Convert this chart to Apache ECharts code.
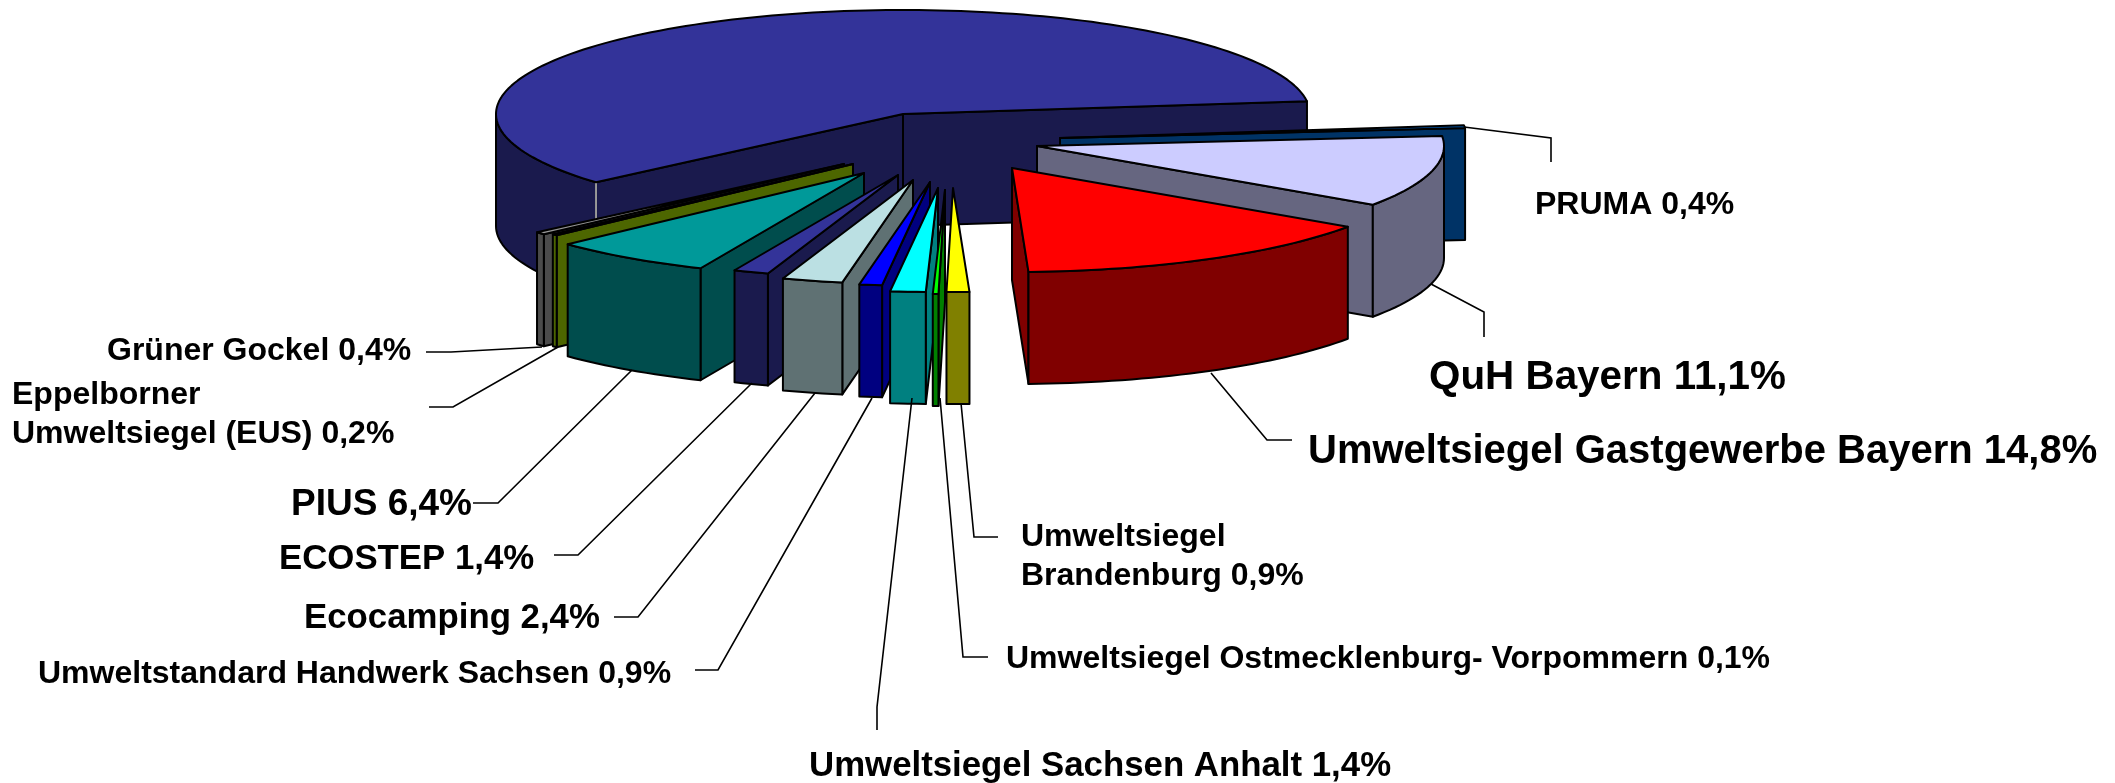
<!DOCTYPE html>
<html><head><meta charset="utf-8">
<style>html,body{margin:0;padding:0;background:#fff}#c{width:2115px;height:783px}</style>
<script src="https://cdn.jsdelivr.net/npm/echarts@6/dist/echarts.min.js"></script>
</head><body><div id="c"></div>
<script>
// ---- data, clockwise from the right-hand edge of the pie ----
const names = ['PRUMA','QuH Bayern','Umweltsiegel Gastgewerbe Bayern','Umweltsiegel\nBrandenburg','Umweltsiegel Ostmecklenburg- Vorpommern','Umweltsiegel Sachsen Anhalt','Umweltstandard Handwerk Sachsen','Ecocamping','ECOSTEP','PIUS','Eppelborner\nUmweltsiegel (EUS)','Grüner Gockel','Übrige'];
const values = [0.4,11.1,14.8,0.9,0.1,1.4,0.9,2.4,1.4,6.4,0.2,0.4,59.5];
const topColors = ['#0066cc','#ccccff','#ff0000','#ffff00','#00ff00','#00ffff','#0000ff','#bbe0e3','#333399','#009999','#4d6600','#969696','#333399'];
const wallColors = ['#003366','#666680','#800000','#808000','#008000','#008080','#000080','#5f7173','#1a1a4d','#004d4d','#4d6600','#4b4b4b','#1a1a4d'];
// ---- layout, not data ----
const pie = {cx:903, cy:114, rx:407, ry:104, depth:112, startDeg:-7, minDeg:0.8};
const explodeX = [157,134,109,50,42,35,27,10,-5,-39,-50,-59,0];
const explodeY = [24,32,54,74,76,74,68,66,61,59,50,50,0];
const drawOrder = [12,0,1,2,11,10,9,8,7,6,5,4,3];
const labelX = [1535,1429,1308,1021,1006,809,38,304,279,291,12,107,null];
const labelY = [205,378,452,557,659,766,674,618,559,505,415,351,null];
const labelSize = [32,40.4,40,32,32,34.8,32,34.8,34.8,37,32,32,0];
const leaders = [
 [[1464,127],[1551,138],[1551,162]],
 [[1431,284],[1484,312],[1484,337]],
 [[1211,373],[1267,440],[1292,440]],
 [[961,403],[974,537],[998,537]],
 [[940,398],[963,657],[988,657]],
 [[912,398],[877,707],[877,730]],
 [[872,398],[718,670],[695,670]],
 [[815,393],[638,617],[614,617]],
 [[752,383],[578,555],[554,555]],
 [[632,370],[498,503],[473,503]],
 [[558,347],[453,407],[429,407]],
 [[542,347],[451,352],[426,352]]
];
// ---- angles from the values ----
const startAngles = [], endAngles = [];
let cum = pie.startDeg;
values.forEach((v,i)=>{
  if(i===values.length-1){ startAngles[i]=cum; endAngles[i]=pie.startDeg+360; return; }
  startAngles[i]=cum; cum+=Math.max(v*3.6,pie.minDeg); endAngles[i]=cum;
});
const rad = d=>d*Math.PI/180;
function rim(i,deg,drop){
  return [pie.cx+explodeX[i]+pie.rx*Math.cos(rad(deg)), pie.cy+explodeY[i]+pie.ry*Math.sin(rad(deg))+(drop||0)];
}
function apex(i,drop){ return [pie.cx+explodeX[i], pie.cy+explodeY[i]+(drop||0)]; }
function arc(i,a,b,drop){
  const n=Math.max(2,Math.ceil(Math.abs(b-a)/1.5)), pts=[];
  for(let k=0;k<=n;k++) pts.push(rim(i,a+(b-a)*k/n,drop));
  return pts;
}
const edge = {stroke:'#000',lineWidth:2,lineJoin:'round'};
function poly(points,fill){ return {type:'polygon',shape:{points},style:Object.assign({fill},edge)}; }

function renderSlice(params,api){
  const i=api.value(0), a=startAngles[i], b=endAngles[i], d=pie.depth, kids=[];
  if(Math.cos(rad(a))<0) kids.push(poly([apex(i),rim(i,a),rim(i,a,d),apex(i,d)],wallColors[i]));
  if(Math.cos(rad(b))>0) kids.push(poly([apex(i),rim(i,b),rim(i,b,d),apex(i,d)],wallColors[i]));
  const w0=Math.max(a,0), w1=Math.min(b,180);
  if(w1>w0) kids.push(poly(arc(i,w0,w1,0).concat(arc(i,w1,w0,d)),wallColors[i]));
  if(i===values.length-1) kids.push({type:'polyline',shape:{points:[rim(i,a),rim(i,a,d)]},style:{stroke:'#c8c8c8',lineWidth:1.5,fill:null}});
  kids.push(poly([apex(i)].concat(arc(i,a,b,0)),topColors[i]));
  return {type:'group',children:kids};
}
function fmt(v){ return v.toFixed(1).replace('.',',')+'%'; }
function renderLabel(params,api){
  const i=api.value(0);
  const kids=[{type:'polyline',shape:{points:leaders[i]},style:{stroke:'#000',lineWidth:1.6,fill:null}}];
  kids.push({type:'text',style:{text:names[i]+' '+fmt(values[i]),x:labelX[i],y:labelY[i],
    font:'bold '+labelSize[i]+'px "Liberation Sans", Arial, sans-serif',lineHeight:labelSize[i]*1.22,
    fill:'#000',textAlign:'left',textVerticalAlign:'middle'}});
  return {type:'group',children:kids};
}
const chart=echarts.init(document.getElementById('c'),null,{renderer:'canvas'});
chart.setOption({
  animation:false,
  backgroundColor:'#fff',
  series:[
    {type:'custom',coordinateSystem:'none',silent:true,clip:false,renderItem:renderSlice,
     data:drawOrder.map(i=>[i,values[i]])},
    {type:'custom',coordinateSystem:'none',silent:true,clip:false,renderItem:renderLabel,
     data:names.slice(0,12).map((n,i)=>[i,values[i]])}
  ]
});
</script></body></html>
